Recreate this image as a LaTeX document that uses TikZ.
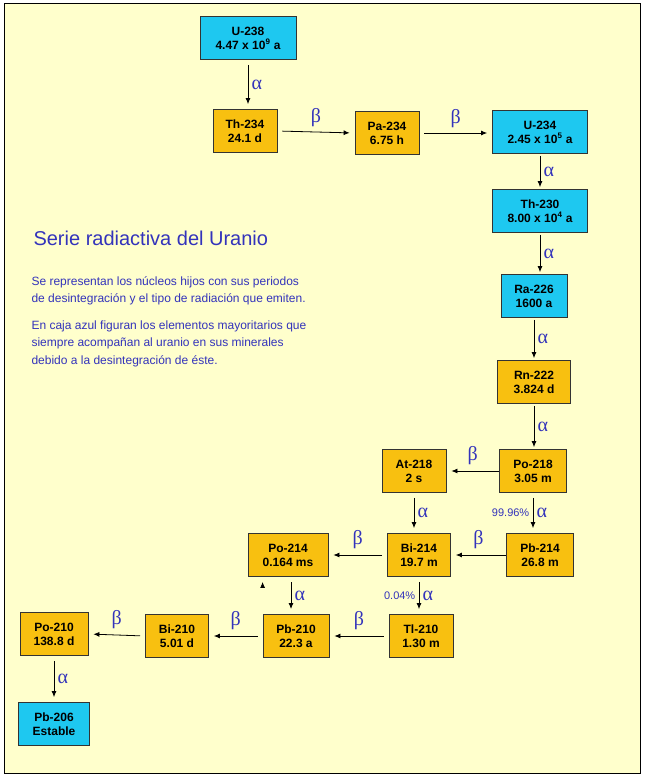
\documentclass[tikz,border=0pt]{standalone}
\usepackage{fontspec}
\setmainfont{Liberation Sans}
\newfontfamily\grk{Liberation Serif}
\usetikzlibrary{arrows.meta}
\definecolor{bg}{HTML}{FFFFCC}
\definecolor{cy}{HTML}{1EC8F0}
\definecolor{og}{HTML}{F8C010}
\definecolor{tb}{HTML}{3333BB}
\tikzset{
 box/.style={draw=black!80,line width=0.8pt,minimum height=43pt,inner sep=2pt,align=center,font=\fontsize{12}{14}\selectfont\bfseries},
 cbox/.style={box,fill=cy},
 obox/.style={box,fill=og},
 arr/.style={-{Latex[length=6pt,width=5pt]},line width=0.8pt,shorten <=5pt,shorten >=5pt},
 gl/.style={text=tb,font=\fontsize{20}{20}\selectfont\grk},
 pct/.style={text=tb,font=\fontsize{11}{12}\selectfont}
}
\begin{document}
\begin{tikzpicture}[x=1pt,y=-1pt]
\useasboundingbox (0,0) rectangle (649,778);
\draw[fill=bg,line width=1pt] (4,4) rectangle (640,773);
\node[cbox,minimum width=96pt] (u238) at (248,38) {U-238\\4.47 x 10$^{\mathbf 9}$ a};
\node[obox,minimum width=64pt] (th234) at (245,131) {Th-234\\24.1 d};
\node[obox,minimum width=64pt] (pa234) at (387,133) {Pa-234\\6.75 h};
\node[cbox,minimum width=95pt] (u234) at (540,132) {U-234\\2.45 x 10$^{\mathbf 5}$ a};
\node[cbox,minimum width=95pt] (th230) at (540,211) {Th-230\\8.00 x 10$^{\mathbf 4}$ a};
\node[cbox,minimum width=66pt] (ra226) at (534,296) {Ra-226\\1600 a};
\node[obox,minimum width=73pt] (rn222) at (534,382) {Rn-222\\3.824 d};
\node[obox,minimum width=67pt] (po218) at (533,471) {Po-218\\3.05 m};
\node[obox,minimum width=64pt] (at218) at (414,471) {At-218\\2 s};
\node[obox,minimum width=67pt] (pb214) at (540,555) {Pb-214\\26.8 m};
\node[obox,minimum width=63pt] (bi214) at (419,555) {Bi-214\\19.7 m};
\node[obox,minimum width=80pt] (po214) at (288,555) {Po-214\\0.164 ms};
\node[obox,minimum width=64pt] (tl210) at (421,636) {Tl-210\\1.30 m};
\node[obox,minimum width=66pt] (pb210) at (296,636) {Pb-210\\22.3 a};
\node[obox,minimum width=63pt] (bi210) at (177,636) {Bi-210\\5.01 d};
\node[obox,minimum width=68pt] (po210) at (54,634) {Po-210\\138.8 d};
\node[cbox,minimum width=71pt] (pb206) at (54,724) {Pb-206\\Estable};
% arrows
\draw[arr] (u238.south) -- (u238.south|-th234.north) node[midway,right,gl]{α};
\draw[arr] (th234.east) -- (pa234.west) node[midway,above=2pt,gl]{β};
\draw[arr] (pa234.east) -- (pa234.east-|u234.west) node[midway,above=2pt,gl]{β};
\draw[arr,shorten <=2pt,shorten >=2pt] (u234.south) -- (th230.north) node[midway,right,gl]{α};
\draw[arr,shorten <=2pt,shorten >=2pt] (th230.south) -- (th230.south|-ra226.north) node[midway,right,gl]{α};
\draw[arr,shorten <=2pt,shorten >=2pt] (ra226.south) -- (ra226.south|-rn222.north) node[midway,right,gl]{α};
\draw[arr,shorten <=2pt,shorten >=2pt] (rn222.south) -- (rn222.south|-po218.north) node[midway,right,gl]{α};
\draw[arr,shorten <=0pt] (po218.west) -- (at218.east) node[midway,above=3pt,gl]{β};
\draw[arr] (po218.south) -- (po218.south|-pb214.north) node[midway,right,gl]{α} node[midway,left,pct]{99.96\%};
\draw[arr] (at218.south) -- (at218.south|-bi214.north) node[midway,right,gl]{α};
\draw[arr,shorten <=0pt] (pb214.west) -- (bi214.east) node[midway,above=3pt,gl]{β};
\draw[arr] (bi214.west) -- (po214.east) node[midway,above=3pt,gl]{β};
\draw[arr] (bi214.south) -- (bi214.south|-tl210.north) node[midway,right,gl]{α} node[midway,left,pct]{0.04\%};
\draw[arr] (po214.south-|pb210.west) ++(0,0) coordinate (pa);
\draw[arr] (291,577) -- (291,614) node[midway,right,gl]{α};
\draw[arr] (tl210.west) -- (pb210.east) node[midway,above=3pt,gl]{β};
\draw[arr] (pb210.west) -- (bi210.east) node[midway,above=3pt,gl]{β};
\draw[arr] (bi210.west) -- (po210.east) node[midway,above=3pt,gl]{β};
\draw[arr] (po210.south) -- (pb206.north) node[midway,right,gl]{α};
% text
\node[anchor=west,text=tb,font=\fontsize{20}{22}\selectfont] (title) at (30,238) {Serie radiactiva del Uranio};
\node[anchor=north west,text=tb,align=left,font=\fontsize{12}{17.5}\selectfont] (desc) at (28,273) {Se representan los núcleos hijos con sus periodos\\de desintegración y el tipo de radiación que emiten.\\[9pt]En caja azul figuran los elementos mayoritarios que\\siempre acompañan  al uranio en sus minerales\\debido a la desintegración de éste.};
\end{tikzpicture}
\end{document}
